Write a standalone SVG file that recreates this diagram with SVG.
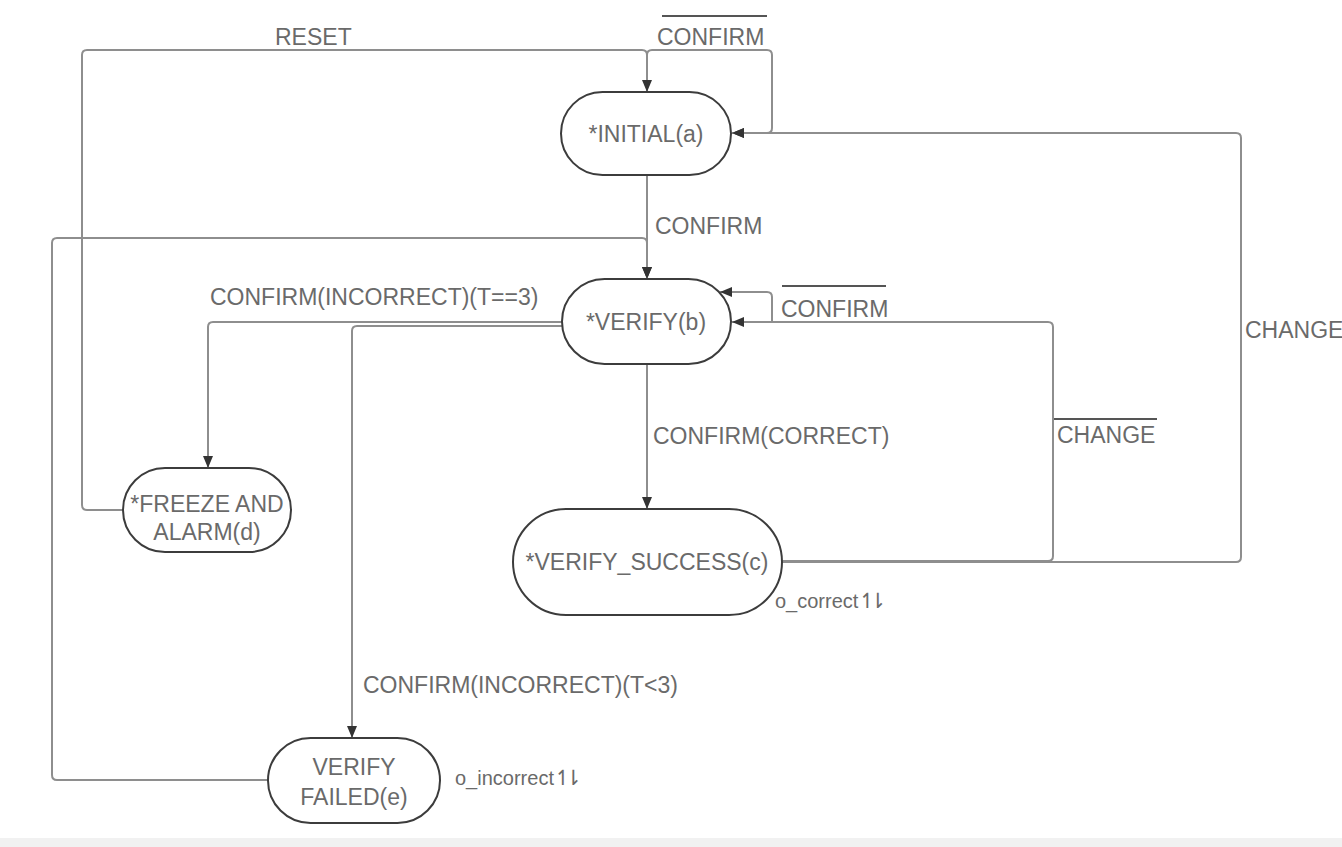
<svg xmlns="http://www.w3.org/2000/svg" width="1342" height="847" viewBox="0 0 1342 847">
<style>
.node{fill:#ffffff;stroke:#3c3c3c;stroke-width:2}
.t{font-family:"Liberation Sans",Arial,sans-serif;font-size:23px;fill:#6a6a6a}
.nt{text-anchor:middle}
.s{font-size:20px}
.h{font-family:"DejaVu Sans",sans-serif;font-size:21px;letter-spacing:-7px}
.edge{fill:none;stroke:#8e8e8e;stroke-width:2}
.ov{stroke:#555555;stroke-width:2}
</style>
<defs>
<marker id="arr" viewBox="0 0 12 12" refX="12" refY="6" markerWidth="12" markerHeight="12" markerUnits="userSpaceOnUse" orient="auto">
<path d="M0,1 L12,6 L0,11 Z" fill="#333333"/>
</marker>
</defs>
<rect x="0" y="0" width="1342" height="847" fill="#ffffff"/>
<rect x="0" y="838" width="1342" height="9" fill="#f1f1f1"/>
<g id="connectors">
<path class="edge" marker-end="url(#arr)" d="M123 510 H87 Q82 510 82 505 V55 Q82 50 87 50 H642 Q647 50 647 55 V92"/>
<path class="edge" marker-end="url(#arr)" d="M647 55 Q647 50 652 50 H767 Q772 50 772 55 V128 Q772 133 767 133 H732"/>
<path class="edge" marker-end="url(#arr)" d="M782 562 H1236 Q1241 562 1241 557 V138 Q1241 133 1236 133 H732"/>
<path class="edge" marker-end="url(#arr)" d="M647 175 V279"/>
<path class="edge" marker-end="url(#arr)" d="M268 780 H57 Q52 780 52 775 V243 Q52 238 57 238 H642 Q647 238 647 243 V279"/>
<path class="edge" marker-end="url(#arr)" d="M772 322 V297 Q772 292 767 292 H720"/>
<path class="edge" marker-end="url(#arr)" d="M782 561 H1048 Q1053 561 1053 556 V327 Q1053 322 1048 322 H732"/>
<path class="edge" marker-end="url(#arr)" d="M563 322 H213 Q208 322 208 327 V468"/>
<path class="edge" marker-end="url(#arr)" d="M563 326 H357 Q352 326 352 331 V738"/>
<path class="edge" marker-end="url(#arr)" d="M647 364 V509"/>
</g>
<g id="labels">
<text class="t" x="275" y="45">RESET</text>
<line class="ov" x1="662" y1="16" x2="767" y2="16"/>
<text class="t" x="657" y="45">CONFIRM</text>
<text class="t" x="655" y="234">CONFIRM</text>
<text class="t" x="210" y="305">CONFIRM(INCORRECT)(T==3)</text>
<line class="ov" x1="782" y1="286" x2="886" y2="286"/>
<text class="t" x="781" y="317">CONFIRM</text>
<text class="t" x="653" y="444">CONFIRM(CORRECT)</text>
<line class="ov" x1="1054" y1="419" x2="1157" y2="419"/>
<text class="t" x="1057" y="443">CHANGE</text>
<text class="t" x="1245" y="338">CHANGE</text>
<text class="t" x="363" y="693">CONFIRM(INCORRECT)(T&lt;3)</text>
<text class="t s" x="775" y="608">o_correct<tspan class="h">↿⇂</tspan></text>
<text class="t s" x="455" y="785">o_incorrect<tspan class="h">↿⇂</tspan></text>
</g>
<g id="node-initial">
<rect class="node" x="561" y="92" width="170" height="83" rx="41.5"/>
<text class="t nt" x="646" y="142">*INITIAL(a)</text>
</g>
<g id="node-verify">
<rect class="node" x="562" y="279" width="169" height="85" rx="42.5"/>
<text class="t nt" x="646" y="330">*VERIFY(b)</text>
</g>
<g id="node-freeze">
<rect class="node" x="123" y="468" width="168" height="84" rx="42"/>
<text class="t nt" x="207" y="512">*FREEZE AND</text>
<text class="t nt" x="207" y="540">ALARM(d)</text>
</g>
<g id="node-success">
<rect class="node" x="513" y="509" width="269" height="106" rx="53"/>
<text class="t nt" x="647" y="570">*VERIFY_SUCCESS(c)</text>
</g>
<g id="node-failed">
<rect class="node" x="268" y="738" width="172" height="85" rx="42.5"/>
<text class="t nt" x="354" y="775">VERIFY</text>
<text class="t nt" x="354" y="805">FAILED(e)</text>
</g>
</svg>
